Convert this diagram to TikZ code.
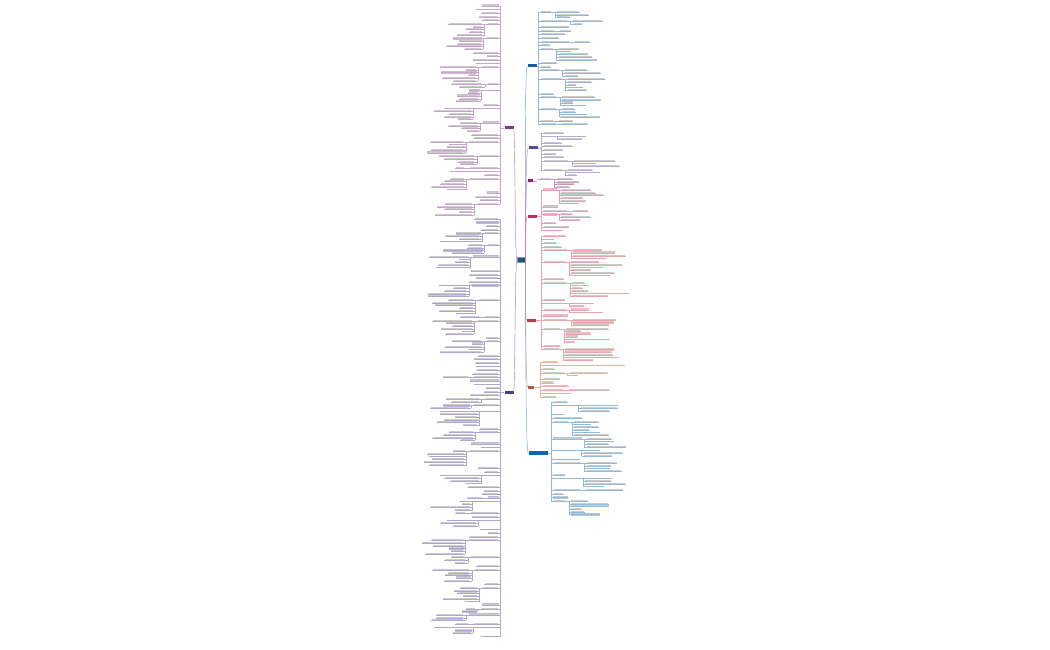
\documentclass[tikz,border=0pt]{standalone}
\usetikzlibrary{calc}
\definecolor{cRoot}{RGB}{38,84,112}
\definecolor{cPurp}{RGB}{125,55,135}
\definecolor{cIndL}{RGB}{72,62,140}
\definecolor{cBlue}{RGB}{25,95,160}
\definecolor{cIndR}{RGB}{88,72,150}
\definecolor{cMag}{RGB}{140,30,120}
\definecolor{cCrim}{RGB}{190,45,95}
\definecolor{cRed}{RGB}{200,55,65}
\definecolor{cOra}{RGB}{200,85,45}
\definecolor{cBlue2}{RGB}{20,100,170}
\tikzset{
  br/.style={line width=0.28pt},
  textbar/.style={fill=black!20, draw=none},
  bnode/.style={fill=#1, draw=none, inner sep=0pt, minimum width=9pt, minimum height=3pt},
  link/.style={line width=0.45pt}
}
\newcommand\mmtree[6]{% #1 colour, #2 spine x, #3 y0, #4 y1, #5 direction, #6 max extra width
  \xdef\cury{#3}%
  \xdef\lasthead{#3}%
  \foreach \g in {1,...,90}{%
    \pgfmathtruncatemacro\ok{\cury<#4 ? 1 : 0}%
    \ifnum\ok=1
      \pgfmathtruncatemacro\m{rnd<0.45 ? 0 : int(1+rnd*6)}%
      \pgfmathsetmacro\hw{10+rnd*20}%
      \pgfmathsetmacro\ha{#2+#5*2}%
      \pgfmathsetmacro\hb{#2+#5*(2+\hw)}%
      \draw[#1!45, br] (#2,\cury) -- (\ha,\cury);
      \pgfmathtruncatemacro\bx{rnd<0.10 ? 1 : 0}%
      \ifnum\bx=1
        \filldraw[fill=#1!8, draw=#1!35, line width=0.2pt] (\ha,\cury-1.6) rectangle (\hb,\cury+0.3);
      \fi
      \fill[textbar] (\ha+#5*0.5,\cury-1.0) rectangle (\hb-#5*0.5,\cury-0.4);
      \draw[#1!45, br] (\ha,\cury) -- (\hb,\cury);
      \xdef\lasthead{\cury}%
      \ifnum\m>0
        \pgfmathsetmacro\xs{\hb+#5*3}%
        \pgfmathsetmacro\yl{\cury+(\m-1)*2.7}%
        \draw[#1!45, br] (\hb,\cury) -- (\xs,\cury) -- (\xs,\yl);
        \pgfmathtruncatemacro\mm{\m-1}%
        \foreach \i in {0,...,\mm}{%
          \pgfmathsetmacro\yy{\cury+\i*2.7}%
          \pgfmathsetmacro\lw{8+rnd*#6}%
          \pgfmathsetmacro\la{\xs+#5*2}%
          \pgfmathsetmacro\lb{\xs+#5*(2+\lw)}%
          \draw[#1!45, br] (\xs,\yy) -- (\la,\yy);
          \pgfmathtruncatemacro\by{rnd<0.10 ? 1 : 0}%
          \ifnum\by=1
            \filldraw[fill=#1!8, draw=#1!35, line width=0.2pt] (\la,\yy-1.6) rectangle (\lb,\yy+0.3);
          \fi
          \fill[textbar] (\la+#5*0.5,\yy-1.0) rectangle (\lb-#5*0.5,\yy-0.4);
          \draw[#1!45, br] (\la,\yy) -- (\lb,\yy);
        }%
      \fi
      \pgfmathsetmacro\ny{\cury+max(\m,1)*2.7+0.9}%
      \xdef\cury{\ny}%
    \fi
  }%
  \draw[#1!45, br] (#2,#3) -- (#2,\lasthead);
}
\begin{document}
\begin{tikzpicture}[x=1pt,y=-1pt]
\useasboundingbox (0,0) rectangle (1050,650);
\fill[white] (0,0) rectangle (1050,650);
\pgfmathsetseed{4242}

% root and main branches
\node[fill=cRoot, draw=cRoot!60, inner sep=0pt, minimum width=8pt, minimum height=5pt] (root) at (521,260) {};
\node[bnode=cPurp] (L1) at (509,128) {};
\node[bnode=cIndL] (L2) at (509,392) {};
\node[bnode=cBlue] (R1) at (532,66) {};
\node[bnode=cIndR] (R2) at (533,148) {};
\node[bnode=cMag, minimum width=5pt] (R3) at (530,181) {};
\node[bnode=cCrim] (R4) at (532,216) {};
\node[bnode=cRed] (R5) at (531,320) {};
\node[bnode=cOra, minimum width=6pt] (R6) at (531,387) {};
\node[bnode=cBlue2, minimum width=19pt, minimum height=4.5pt] (R7) at (538,453) {};

% connectors root -> branches
\draw[link, cPurp!60] (root.west) .. controls (515,260) and (515,128) .. (L1.east);
\draw[link, cIndL!60] (root.west) .. controls (515,260) and (515,392) .. (L2.east);
\draw[link, cBlue!60] (root.east) .. controls (526,260) and (524,66) .. (R1.west);
\draw[link, cIndR!60] (root.east) .. controls (526,260) and (525,148) .. (R2.west);
\draw[link, cMag!60] (root.east) .. controls (526,260) and (525,181) .. (R3.west);
\draw[link, cCrim!60] (root.east) .. controls (526,260) and (525,216) .. (R4.west);
\draw[link, cRed!60] (root.east) .. controls (526,260) and (525,320) .. (R5.west);
\draw[link, cOra!60] (root.east) .. controls (526,260) and (525,387) .. (R6.west);
\draw[link, cBlue2!60] (root.east) .. controls (526,260) and (525,453) .. (R7.west);

% branch node -> spine
\draw[br, cPurp!45] (L1.west) -- (500,128);
\draw[br, cIndL!45] (L2.west) -- (500,392);
\draw[br, cBlue!45] (R1.east) -- (538,66);
\draw[br, cIndR!45] (R2.east) -- (541,148);
\draw[br, cMag!45] (R3.east) -- (537,181);
\draw[br, cCrim!45] (R4.east) -- (541,216);
\draw[br, cRed!45] (R5.east) -- (541,320);
\draw[br, cOra!45] (R6.east) -- (540,387);
\draw[br, cBlue2!45] (R7.east) -- (551,453);

% subtrees
\mmtree{cPurp}{500}{6}{214}{-1}{30}
\mmtree{cIndL}{500}{219}{638}{-1}{34}
\mmtree{cBlue}{538}{12}{128}{1}{34}
\mmtree{cIndR}{541}{133}{175}{1}{40}
\mmtree{cMag}{537}{179}{187}{1}{30}
\mmtree{cCrim}{541}{190}{232}{1}{36}
\mmtree{cRed}{541}{236}{357}{1}{50}
\mmtree{cOra}{540}{362}{398}{1}{50}
\mmtree{cBlue2}{551}{402}{514}{1}{34}
\end{tikzpicture}
\end{document}
